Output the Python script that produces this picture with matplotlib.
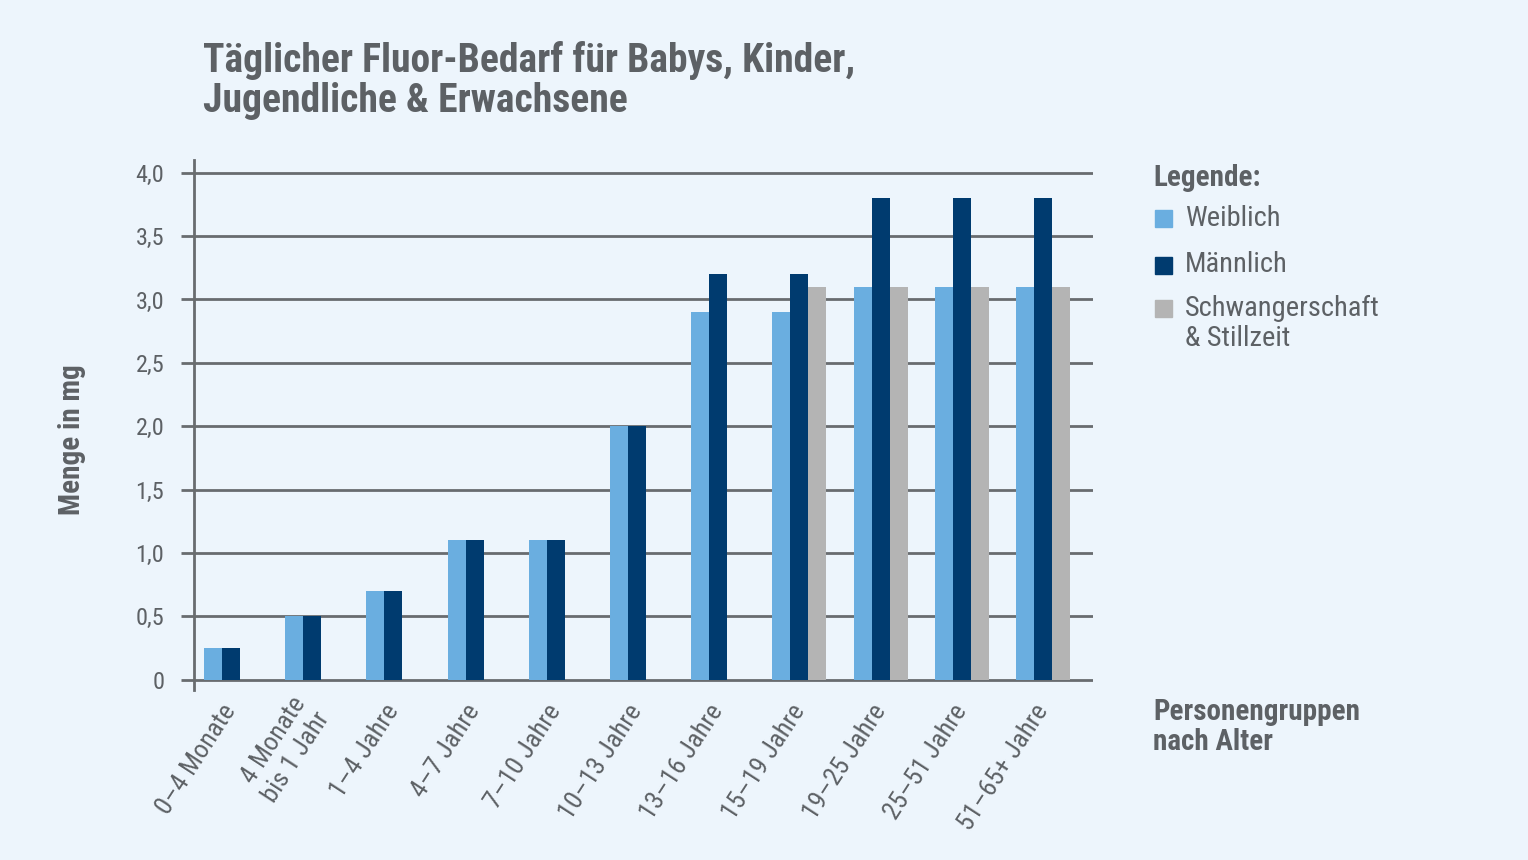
import matplotlib
matplotlib.use('Agg')
import matplotlib.pyplot as plt
from matplotlib.patches import Rectangle
from matplotlib import font_manager
import numpy as np

# data
groups = ['0–4 Monate', '4 Monate\nbis 1 Jahr', '1–4 Jahre', '4–7 Jahre', '7–10 Jahre',
          '10–13 Jahre', '13–16 Jahre', '15–19 Jahre', '19–25 Jahre', '25–51 Jahre',
          '51–65+ Jahre']
weiblich = [0.25, 0.5, 0.7, 1.1, 1.1, 2.0, 2.9, 2.9, 3.1, 3.1, 3.1]
maennlich = [0.25, 0.5, 0.7, 1.1, 1.1, 2.0, 3.2, 3.2, 3.8, 3.8, 3.8]
schwanger = [np.nan] * 7 + [3.1, 3.1, 3.1, 3.1]
yticks = [0, 0.5, 1.0, 1.5, 2.0, 2.5, 3.0, 3.5, 4.0]
ytick_labels = ['0', '0,5', '1,0', '1,5', '2,0', '2,5', '3,0', '3,5', '4,0']
legend_labels = ['Weiblich', 'Männlich', 'Schwangerschaft\n& Stillzeit']

BG = '#edf5fc'
TXT = '#5d6165'
GRID = '#686c6f'
C_W = '#6aaee0'
C_M = '#003b6f'
C_S = '#b4b4b4'

# a narrow face if one is installed, otherwise DejaVu
names = {f.name for f in font_manager.fontManager.ttflist}
FONT = ['DejaVu Sans']
for cand in ['Roboto Condensed', 'Liberation Sans Narrow', 'Open Sans Condensed']:
    if cand in names:
        FONT = [cand, 'DejaVu Sans']
        break
plt.rcParams['font.family'] = FONT

W, H = 1528, 860
fig = plt.figure(figsize=(W / 100, H / 100), dpi=100, facecolor=BG)


def px(x, y):
    return x / W, 1 - y / H


# axes: left spine at x=194, right end 1093, y from 160 to 690
ax = fig.add_axes([194 / W, (H - 690) / H, (1093 - 194) / W, (690 - 160) / H])
ax.set_facecolor(BG)

x = np.arange(len(groups))
w = 0.222
ax.bar(x - w, weiblich, w, color=C_W, zorder=3)
ax.bar(x, maennlich, w, color=C_M, zorder=3)
ax.bar(x + w, schwanger, w, color=C_S, zorder=3)

ax.set_xlim(-0.456, 10.616)
ax.set_ylim(-0.08, 4.1)

ax.set_yticks(yticks)
ax.set_yticklabels(ytick_labels, fontsize=17.5, color=TXT)
ax.tick_params(axis='y', length=9.5, width=2, color=GRID, pad=12)
for yv in yticks:
    ax.axhline(yv, color=GRID, lw=2, zorder=1)

ax.set_xticks(x)
ax.set_xticklabels(groups, rotation=57, ha='right', va='center',
                   rotation_mode='anchor', fontsize=19, color=TXT,
                   linespacing=1.25)
ax.tick_params(axis='x', length=0, pad=12)

for s in ['top', 'right', 'bottom']:
    ax.spines[s].set_visible(False)
ax.spines['left'].set_color(GRID)
ax.spines['left'].set_linewidth(2)

# title
fig.text(*px(203, 61), 'Täglicher Fluor-Bedarf für Babys, Kinder,', fontsize=28.5,
         fontweight='bold', color=TXT, va='center', ha='left')
fig.text(*px(203, 101), 'Jugendliche & Erwachsene', fontsize=28.5,
         fontweight='bold', color=TXT, va='center', ha='left')

# y label
fig.text(*px(72, 440), 'Menge in mg', rotation=90, fontsize=21, fontweight='bold',
         color=TXT, va='center', ha='center')

# legend
fig.text(*px(1153, 178), 'Legende:', fontsize=21, fontweight='bold', color=TXT,
         va='center', ha='left')
leg_colors = [C_W, C_M, C_S]
leg_y = [218, 265, 308]
for lab, col, yy in zip(legend_labels, leg_colors, leg_y):
    fig.patches.append(Rectangle(px(1155, yy + 9), 17 / W, 17 / H, color=col,
                                 transform=fig.transFigure, figure=fig))
    for k, line in enumerate(lab.split('\n')):
        fig.text(*px(1185, yy + 30 * k), line, fontsize=20.5, color=TXT,
                 va='center', ha='left')

# x label
fig.text(*px(1153, 712), 'Personengruppen', fontsize=21, fontweight='bold',
         color=TXT, va='center', ha='left')
fig.text(*px(1153, 742), 'nach Alter', fontsize=21, fontweight='bold',
         color=TXT, va='center', ha='left')

fig.savefig('out.png', dpi=100, facecolor=BG)
